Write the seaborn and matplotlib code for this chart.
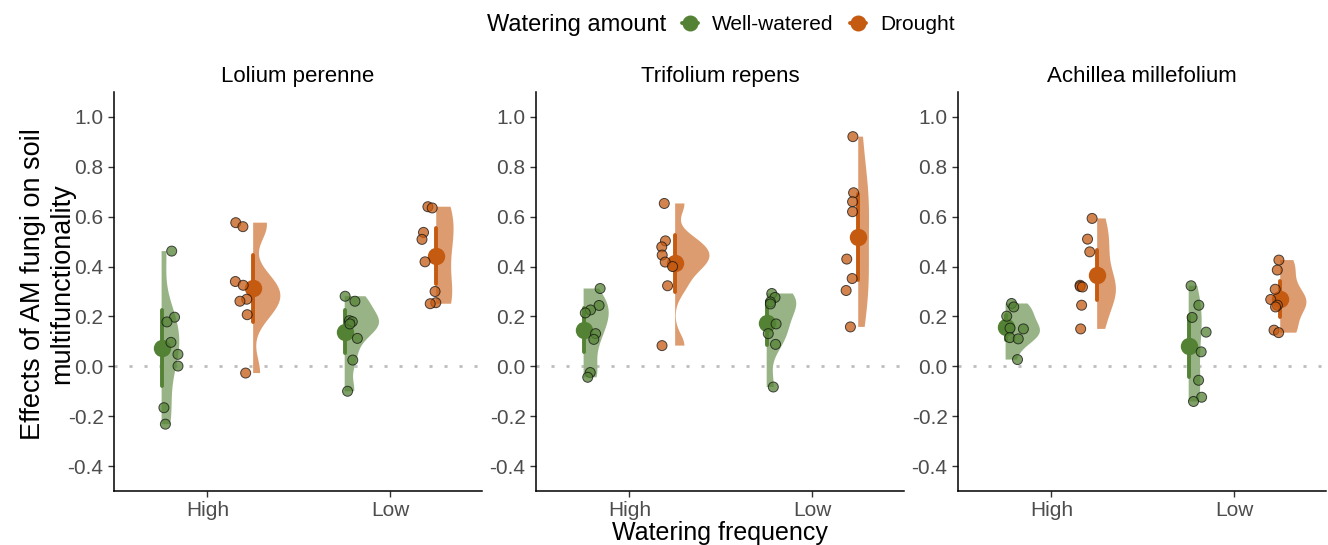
import numpy as np
import pandas as pd
import matplotlib
matplotlib.use("Agg")
import matplotlib.pyplot as plt
from matplotlib.lines import Line2D
from matplotlib.collections import PolyCollection
import seaborn as sns

# ---------------- data ----------------
species = ["Lolium perenne", "Trifolium repens", "Achillea millefolium"]
frequencies = ["High", "Low"]
amounts = ["Well-watered", "Drought"]

lp_high_ww = [0.462, 0.197, 0.178, 0.096, 0.048, 0.001, -0.166, -0.232]
lp_high_dr = [0.576, 0.560, 0.340, 0.325, 0.269, 0.261, 0.207, -0.027]
lp_low_ww = [0.281, 0.261, 0.183, 0.179, 0.170, 0.112, 0.025, -0.100]
lp_low_dr = [0.640, 0.635, 0.537, 0.509, 0.419, 0.300, 0.255, 0.251]

tr_high_ww = [0.312, 0.244, 0.226, 0.214, 0.131, 0.108, -0.025, -0.044]
tr_high_dr = [0.653, 0.503, 0.479, 0.446, 0.418, 0.400, 0.323, 0.083]
tr_low_ww = [0.292, 0.276, 0.258, 0.250, 0.170, 0.131, 0.088, -0.083]
tr_low_dr = [0.921, 0.696, 0.660, 0.620, 0.430, 0.352, 0.304, 0.158]

am_high_ww = [0.252, 0.238, 0.201, 0.153, 0.150, 0.115, 0.110, 0.027]
am_high_dr = [0.593, 0.510, 0.459, 0.325, 0.320, 0.318, 0.245, 0.150]
am_low_ww = [0.323, 0.245, 0.196, 0.137, 0.058, -0.056, -0.124, -0.141]
am_low_dr = [0.426, 0.386, 0.309, 0.268, 0.245, 0.238, 0.145, 0.135]

yticks = [-0.4, -0.2, 0.0, 0.2, 0.4, 0.6, 0.8, 1.0]
ytick_labels = ["-0.4", "-0.2", "0.0", "0.2", "0.4", "0.6", "0.8", "1.0"]
ylabel_lines = ["Effects of AM fungi on soil", "multifunctionality"]

groups = {
    ("Lolium perenne", "High", "Well-watered"): lp_high_ww,
    ("Lolium perenne", "High", "Drought"): lp_high_dr,
    ("Lolium perenne", "Low", "Well-watered"): lp_low_ww,
    ("Lolium perenne", "Low", "Drought"): lp_low_dr,
    ("Trifolium repens", "High", "Well-watered"): tr_high_ww,
    ("Trifolium repens", "High", "Drought"): tr_high_dr,
    ("Trifolium repens", "Low", "Well-watered"): tr_low_ww,
    ("Trifolium repens", "Low", "Drought"): tr_low_dr,
    ("Achillea millefolium", "High", "Well-watered"): am_high_ww,
    ("Achillea millefolium", "High", "Drought"): am_high_dr,
    ("Achillea millefolium", "Low", "Well-watered"): am_low_ww,
    ("Achillea millefolium", "Low", "Drought"): am_low_dr,
}

rows = []
for (sp, fr, am), vals in groups.items():
    for v in vals:
        rows.append({"species": sp, "frequency": fr, "amount": am, "value": v})
df = pd.DataFrame(rows)

# style
GREEN = "#548235"
ORANGE = "#C55A11"
GREEN_L = "#98B486"
ORANGE_L = "#DC9C70"

fidx = {f: i for i, f in enumerate(frequencies)}
mean_off = {"Well-watered": -0.25, "Drought": 0.25}
pt_off = {"Well-watered": -0.2, "Drought": 0.2}
df["pos_mean"] = df["frequency"].map(fidx) + df["amount"].map(mean_off)
df["pos_pt"] = df["frequency"].map(fidx) + df["amount"].map(pt_off)


def nrd0(kde):
    d = np.asarray(kde.dataset).ravel()
    sd = d.std(ddof=1)
    q75, q25 = np.percentile(d, [75, 25])
    lo = min(sd, (q75 - q25) / 1.34)
    if lo <= 0:
        lo = sd
    return 0.9 * lo * len(d) ** -0.2 / sd


sns.set_theme(style="ticks")
plt.rcParams["font.family"] = ["Liberation Sans", "DejaVu Sans"]
plt.rcParams["axes.unicode_minus"] = False
plt.rcParams["text.color"] = "black"
plt.rcParams["axes.labelcolor"] = "black"

fig, axes = plt.subplots(1, 3, figsize=(13.28, 5.45), dpi=100)
fig.subplots_adjust(left=114 / 1328, right=1326 / 1328, bottom=1 - 491 / 545,
                    top=1 - 92 / 545, wspace=54 / 368)

np.random.seed(3)
for ax, sp in zip(axes, species):
    d = df[df["species"] == sp]
    ax.axhline(0, color="#BDBDBD", linewidth=2.0, linestyle=(0, (1.1, 4.3)), zorder=0)

    n0 = len(ax.collections)
    sns.violinplot(data=d, x="pos_mean", y="value", hue="amount", hue_order=amounts,
                   palette=[GREEN_L, ORANGE_L], native_scale=True, dodge=False,
                   cut=0, inner=None, linewidth=0, saturation=1, width=0.75,
                   density_norm="area", common_norm=True, bw_method=nrd0,
                   legend=False, ax=ax)
    for coll in ax.collections[n0:]:
        if isinstance(coll, PolyCollection):
            for path in coll.get_paths():
                v = path.vertices
                cx = (v[:, 0].min() + v[:, 0].max()) / 2
                v[:, 0] = np.maximum(v[:, 0], cx)
            coll.set_edgecolor("none")

    sns.stripplot(data=d, x="pos_pt", y="value", hue="amount", hue_order=amounts,
                  palette=[GREEN, ORANGE], native_scale=True, dodge=False,
                  jitter=0.125, size=7.2, alpha=0.75, linewidth=0.7,
                  edgecolor="#111111", legend=False, ax=ax, zorder=3)

    sns.pointplot(data=d, x="pos_mean", y="value", hue="amount", hue_order=amounts,
                  palette=[GREEN, ORANGE], native_scale=True, dodge=False,
                  errorbar=("se", 1.96), linestyle="none", markers="o",
                  markersize=10.5, err_kws={"linewidth": 2.8},
                  legend=False, ax=ax)

    ax.set_xlim(-0.51, 1.5)
    ax.set_ylim(-0.5, 1.1)
    ax.set_xticks([0, 1])
    ax.set_xticklabels(frequencies)
    ax.set_yticks(yticks)
    ax.set_yticklabels(ytick_labels)
    ax.tick_params(axis="both", labelsize=15, labelcolor="#4D4D4D", color="#333333",
                   length=4, width=1.0)
    for s in ["left", "bottom"]:
        ax.spines[s].set_linewidth(1.1)
        ax.spines[s].set_color("black")
    sns.despine(ax=ax)
    ax.set_title(sp, fontsize=16, pad=7, color="black")
    ax.set_xlabel("")
    ax.set_ylabel("")

# two-line y axis title, one text per line
for xpx, line in zip([33, 62.5], ylabel_lines):
    fig.text(xpx / 1328, 1 - 284 / 545, line, rotation=90, ha="center", va="center",
             fontsize=19.5)
axes[1].set_xlabel("Watering frequency", fontsize=18, labelpad=0.5)

handles = [Line2D([], [], color=GREEN, marker="o", markersize=10.5, linewidth=2.8),
           Line2D([], [], color=ORANGE, marker="o", markersize=10.5, linewidth=2.8)]
fig.legend(handles, amounts, loc="center left", bbox_to_anchor=(682 / 1328, 1 - 25 / 545),
           ncol=2, frameon=False, fontsize=15, handlelength=0.75, handletextpad=0.7,
           columnspacing=0.8, borderpad=0, borderaxespad=0)
fig.text(666 / 1328, 1 - 25 / 545, "Watering amount", ha="right", va="center",
         fontsize=17)

fig.savefig("out.png", dpi=100)
